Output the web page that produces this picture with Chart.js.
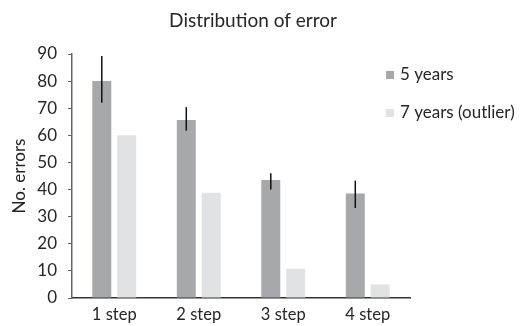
<!DOCTYPE html>
<html><head><meta charset="utf-8">
<script src="https://cdn.jsdelivr.net/npm/chart.js@4/dist/chart.umd.min.js"></script>
<style>html,body{margin:0;padding:0;background:#fff}#wrap{width:520px;height:326px}</style>
</head><body><div id="wrap"><canvas id="c" width="520" height="326"></canvas></div>
<script>
const categories = ["1 step", "2 step", "3 step", "4 step"];
const series5 = [80, 65.7, 43.5, 38.5];
const err5Low = [72, 61.7, 40, 33.2];
const err5High = [89.3, 70.4, 46, 43.3];
const series7 = [60, 38.8, 10.8, 5];
const seriesNames = ["5 years", "7 years (outlier)"];
const yTicks = [0, 10, 20, 30, 40, 50, 60, 70, 80, 90];

const FONT = "Lato, 'Open Sans', sans-serif";
const TXT = '#262626';

const extras = {
  id: 'extras',
  afterDatasetsDraw(chart) {
    const ctx = chart.ctx;
    const y = chart.scales.y;
    const meta = chart.getDatasetMeta(0);
    ctx.save();
    ctx.strokeStyle = '#111';
    ctx.lineWidth = 1.5;
    meta.data.forEach((bar, i) => {
      ctx.beginPath();
      ctx.moveTo(bar.x, y.getPixelForValue(err5Low[i]));
      ctx.lineTo(bar.x, y.getPixelForValue(err5High[i]));
      ctx.stroke();
    });
    ctx.restore();
  },
  afterDraw(chart) {
    const ctx = chart.ctx;
    ctx.save();
    ctx.fillStyle = TXT;
    ctx.font = "19px " + FONT;
    ctx.textAlign = 'center';
    ctx.textBaseline = 'middle';
    ctx.fillText("Distribution of error", 253, 21);
    ctx.font = "17px " + FONT;
    ctx.textAlign = 'left';
    chart.data.datasets.forEach((ds, i) => {
      const ly = 75 + i * 38;
      ctx.fillStyle = ds.backgroundColor;
      ctx.fillRect(386, ly - 4, 8, 8);
      ctx.fillStyle = TXT;
      ctx.fillText(ds.label, 400, ly);
    });
    ctx.restore();
  }
};

new Chart(document.getElementById('c'), {
  type: 'bar',
  data: {
    labels: categories,
    datasets: [
      { label: seriesNames[0], data: series5, backgroundColor: '#a7a8ab', categoryPercentage: 0.59, barPercentage: 0.76 },
      { label: seriesNames[1], data: series7, backgroundColor: '#e1e2e4', categoryPercentage: 0.59, barPercentage: 0.76 }
    ]
  },
  options: {
    responsive: false,
    animation: false,
    layout: { padding: { top: 54, right: 110, left: 9, bottom: 0 } },
    plugins: { legend: { display: false }, title: { display: false }, tooltip: { enabled: false } },
    scales: {
      x: {
        grid: { display: false, drawTicks: false },
        border: { color: '#333', width: 1.5 },
        ticks: { color: TXT, font: { family: FONT, size: 16.5 }, padding: 7 },
        afterFit(s) { s.height = 28; }
      },
      y: {
        min: 0, max: 90,
        afterBuildTicks(s) { s.ticks = yTicks.map(v => ({ value: v })); },
        grid: { drawOnChartArea: false, drawTicks: true, tickLength: 4, color: '#666' },
        border: { color: '#666', width: 1.5 },
        ticks: { color: TXT, font: { family: FONT, size: 17 }, padding: 11 },
        title: { display: true, text: 'No. errors', color: TXT, font: { family: FONT, size: 17 }, padding: 0 },
        afterFit(s) { s.width = 63; }
      }
    }
  },
  plugins: [extras]
});
</script></body></html>
